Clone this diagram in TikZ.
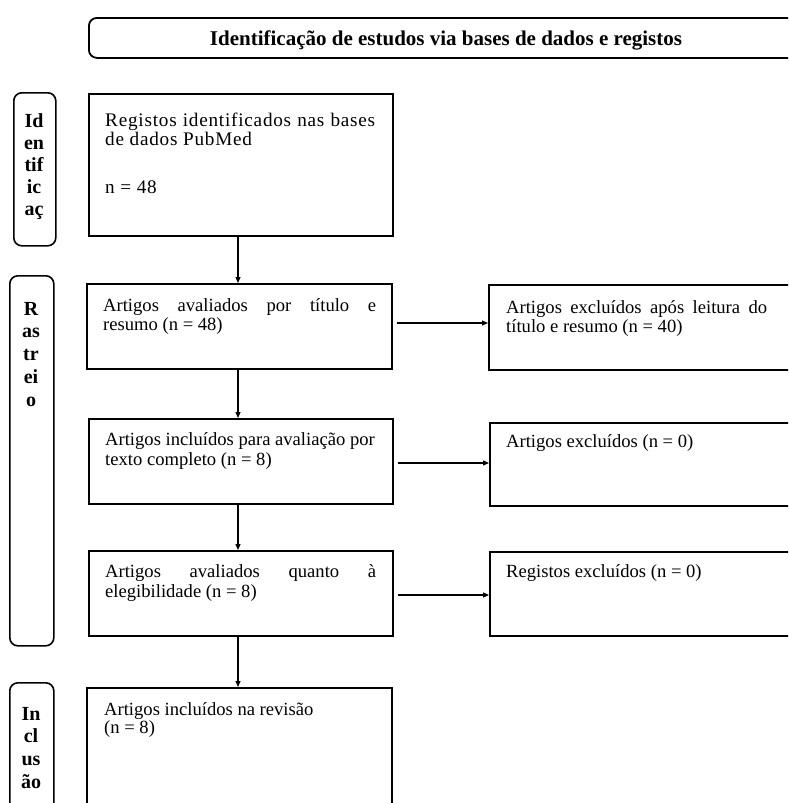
\documentclass[tikz,border=0pt]{standalone}
\usepackage{fontspec}
\setmainfont{Liberation Serif}
\usetikzlibrary{arrows.meta}
\begin{document}
\begin{tikzpicture}[x=1pt,y=-1pt,
  box/.style={draw, line width=1.8pt, inner sep=0, anchor=north west},
  side/.style={draw, line width=1.6pt, rounded corners=8pt, inner sep=0, anchor=north west},
  body/.style={inner sep=0, anchor=base west, font=\fontsize{18.6}{21}\selectfont},
  bigbody/.style={inner sep=0, anchor=base west, font=\fontsize{19.2}{22}\selectfont\addfontfeatures{LetterSpace=4}},
  lab/.style={inner sep=0, anchor=base, font=\bfseries\fontsize{20}{22}\selectfont},
  titlef/.style={inner sep=0, anchor=base, font=\bfseries\fontsize{21}{24}\selectfont},
  arr/.style={line width=1.2pt, -{Triangle[length=6pt,width=5pt]}}]
\useasboundingbox (0,0) rectangle (788,803);
\clip (0,0) rectangle (788,803);
% banner
\node[box, rounded corners=8pt, minimum width=720, minimum height=40] (ban) at (88,17) {};
\node[titlef] (tt) at (446,45) {Identificação de estudos via bases de dados e registos};
% side labels
\node[side, minimum width=42, minimum height=153] (s1) at (13,92) {};
\node[side, minimum width=44, minimum height=370] (s2) at (9,275) {};
\node[side, minimum width=44, minimum height=140] (s3) at (9,682) {};
\node[lab] (s1a) at (34,127) {Id};
\node[lab] (s1b) at (34,149) {en};
\node[lab] (s1c) at (34,171) {tif};
\node[lab] (s1d) at (34,193) {ic};
\node[lab] (s1e) at (34,215) {aç};
\node[lab] (s2a) at (31,315) {R};
\node[lab] (s2b) at (31,337.7) {as};
\node[lab] (s2c) at (31,360.4) {tr};
\node[lab] (s2d) at (31,383) {ei};
\node[lab] (s2e) at (31,406) {o};
\node[lab] (s3a) at (31,720) {In};
\node[lab] (s3b) at (31,742) {cl};
\node[lab] (s3c) at (31,765) {us};
\node[lab] (s3d) at (31,788) {ão};
% main boxes
\node[box, minimum width=304, minimum height=142] (b1) at (88,93) {};
\node[box, minimum width=305, minimum height=85] (b2) at (86,283) {};
\node[box, minimum width=304, minimum height=85] (b3) at (88,418) {};
\node[box, minimum width=304, minimum height=85] (b4) at (88,550) {};
\node[box, minimum width=305, minimum height=140] (b5) at (86,687) {};
% right boxes
\node[box, minimum width=320, minimum height=85] (r1) at (488,284) {};
\node[box, minimum width=320, minimum height=83] (r2) at (489,422) {};
\node[box, minimum width=320, minimum height=84] (r3) at (489,551) {};
% texts
\node[bigbody] (t1a) at (105,126) {\makebox[270pt][s]{Registos identificados nas bases}};
\node[bigbody] (t1b) at (105,145) {de dados PubMed};
\node[bigbody] (t1c) at (105,193) {n = 48};
\node[body] (t2a) at (103,311) {\makebox[273pt][s]{Artigos avaliados por título e}};
\node[body] (t2b) at (103,330) {resumo (n = 48)};
\node[body] (t3a) at (105,445) {Artigos incluídos para avaliação por};
\node[body] (t3b) at (105,465) {texto completo (n = 8)};
\node[body] (t4a) at (105,577) {\makebox[271pt][s]{Artigos avaliados quanto à}};
\node[body] (t4b) at (105,597) {elegibilidade (n = 8)};
\node[body] (t5a) at (104,715) {Artigos incluídos na revisão};
\node[body] (t5b) at (104,733) {(n = 8)};
\node[body] (u1a) at (506,313) {\makebox[261pt][s]{Artigos excluídos após leitura do}};
\node[body] (u1b) at (506,332) {título e resumo (n = 40)};
\node[body] (u2a) at (506,447) {Artigos excluídos (n = 0)};
\node[body] (u3a) at (506,577) {Registos excluídos (n = 0)};
% connectors
\coordinate (colx) at (238,0);
\coordinate (h1) at (0,323);
\coordinate (h2) at (0,463);
\coordinate (h3) at (0,595);
\draw[arr] (b1.south -| colx) -- (b2.north -| colx);
\draw[arr] (b2.south -| colx) -- (b3.north -| colx);
\draw[arr] (b3.south -| colx) -- (b4.north -| colx);
\draw[arr] (b4.south -| colx) -- (b5.north -| colx);
\draw[arr, shorten <=4pt] (b2.east |- h1) -- (r1.west |- h1);
\draw[arr, shorten <=4pt] (b3.east |- h2) -- (r2.west |- h2);
\draw[arr, shorten <=4pt] (b4.east |- h3) -- (r3.west |- h3);
\end{tikzpicture}
\end{document}
